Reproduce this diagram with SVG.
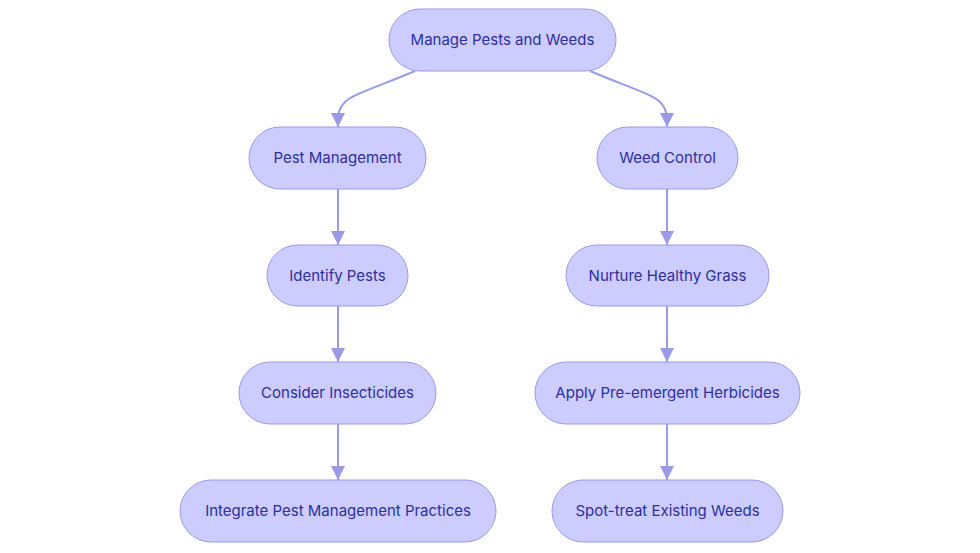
<svg xmlns="http://www.w3.org/2000/svg" width="980" height="553" viewBox="0 0 980 553">
<defs>
<style>
.node rect{fill:#ccccff;stroke:#9a9ae8;stroke-width:1}
.node text{font-family:Inter,"Noto Sans","Liberation Sans",sans-serif;font-size:15px;fill:#2d2fa0;text-anchor:middle;dominant-baseline:central}
.edge{fill:none;stroke:#9a9ae8;stroke-width:2;marker-end:url(#arr)}
</style>
<marker id="arr" viewBox="0 0 14 14" refX="14" refY="7" markerWidth="14" markerHeight="14" markerUnits="userSpaceOnUse" orient="auto">
<path d="M0,0 L14,7 L0,14 z" fill="#9a9ae8"/>
</marker>
</defs>
<rect width="980" height="553" fill="#ffffff"/>
<g id="connectors">
<path class="edge" d="M415,71 C380,86 355,93 345,102 C339,108 338,112 338,127"/>
<path class="edge" d="M590,71 C625,86 650,93 660,102 C666,108 667,112 667,127"/>
<path class="edge" d="M338,189 L338,245"/>
<path class="edge" d="M338,306 L338,362"/>
<path class="edge" d="M338,424 L338,480"/>
<path class="edge" d="M667,189 L667,245"/>
<path class="edge" d="M667,306 L667,362"/>
<path class="edge" d="M667,424 L667,480"/>
</g>
<g id="root" class="node"><rect x="389" y="9" width="227" height="62" rx="31"/><text x="502.5" y="39.5">Manage Pests and Weeds</text></g>
<g id="pest" class="node"><rect x="249" y="127" width="177" height="62" rx="31"/><text x="337.5" y="157.5">Pest Management</text></g>
<g id="weed" class="node"><rect x="597" y="127" width="141" height="62" rx="31"/><text x="667.5" y="157.5">Weed Control</text></g>
<g id="identify" class="node"><rect x="267" y="245" width="141" height="61" rx="30.5"/><text x="337.5" y="275">Identify Pests</text></g>
<g id="nurture" class="node"><rect x="566" y="245" width="203" height="61" rx="30.5"/><text x="667.5" y="275">Nurture Healthy Grass</text></g>
<g id="consider" class="node"><rect x="239" y="362" width="197" height="62" rx="31"/><text x="337.5" y="392.5">Consider Insecticides</text></g>
<g id="apply" class="node"><rect x="535" y="362" width="265" height="62" rx="31"/><text x="667.5" y="392.5">Apply Pre-emergent Herbicides</text></g>
<g id="integrate" class="node"><rect x="180" y="480" width="316" height="62" rx="31"/><text x="338" y="510.5">Integrate Pest Management Practices</text></g>
<g id="spot" class="node"><rect x="552" y="480" width="231" height="62" rx="31"/><text x="667.5" y="510.5">Spot-treat Existing Weeds</text></g>
</svg>
